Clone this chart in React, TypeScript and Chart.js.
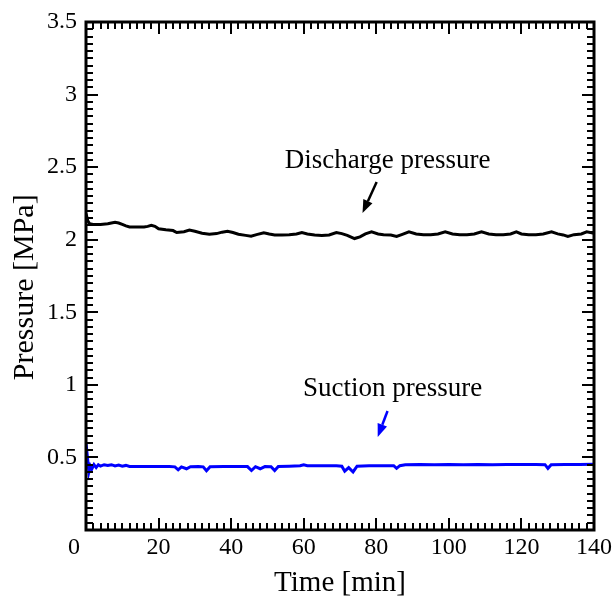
import React, { useEffect, useRef } from 'react';
import { Chart, registerables } from 'chart.js';

Chart.register(...registerables);

// ---- data ----
const dischargeTime = [
  0, 0.5, 1, 2, 4, 6, 7, 8, 9, 10, 11, 12, 14, 16, 17, 18, 19, 20, 22, 24, 25, 27, 28.5, 30, 32, 34, 36,
  37.5, 39, 40.5, 42, 44, 45.5, 47, 49, 50.5, 52, 54, 56, 58, 59.5, 61, 63, 65, 67, 69, 70.5, 72, 74,
  75.5, 77, 78.7, 80.5, 82, 84, 85.6, 87, 89, 91, 93, 95, 97, 99, 101, 103, 105, 107, 109, 111, 113,
  115, 117, 118.6, 120, 122, 124, 126, 128.3, 130, 131.5, 132.8, 134.5, 136.5, 138, 140,
];
const dischargeMPa = [
  2.18, 2.13, 2.11, 2.105, 2.105, 2.11, 2.115, 2.12, 2.115, 2.105, 2.095, 2.088, 2.087, 2.088, 2.092,
  2.1, 2.092, 2.075, 2.068, 2.063, 2.05, 2.055, 2.066, 2.058, 2.045, 2.038, 2.042, 2.052, 2.058, 2.05,
  2.038, 2.03, 2.024, 2.035, 2.048, 2.04, 2.033, 2.033, 2.034, 2.04, 2.05, 2.04, 2.032, 2.029, 2.033,
  2.05, 2.042, 2.03, 2.008, 2.02, 2.04, 2.054, 2.04, 2.035, 2.032, 2.022, 2.035, 2.054, 2.04, 2.035,
  2.035, 2.04, 2.054, 2.04, 2.035, 2.035, 2.04, 2.054, 2.04, 2.035, 2.035, 2.04, 2.054, 2.04, 2.035,
  2.035, 2.04, 2.054, 2.04, 2.033, 2.022, 2.035, 2.04, 2.054, 2.045,
];
const suctionTime = [
  0, 0.4, 0.8, 1.2, 1.6, 2.2, 2.8, 3.4, 4, 5, 6, 7, 8, 9, 10, 11, 12, 14, 17, 20, 23,
  24.5, 25.4, 26.3, 27.7, 28.8, 31, 32.3, 33.2, 34.2, 38, 42, 44.5, 45.6, 46.7, 48, 49.3, 51, 52, 53,
  56, 59, 60, 61, 65, 69, 70.5, 71.3, 72.4, 73.6, 74.7, 78, 82, 84.8, 85.6, 86.5, 88, 92, 96, 100, 104,
  108, 112, 116, 120, 124, 126.5, 127.3, 128.2, 132, 136, 140,
];
const suctionMPa = [
  0.6, 0.5, 0.4, 0.44, 0.42, 0.45, 0.43, 0.45, 0.44, 0.45, 0.445, 0.45, 0.442, 0.447, 0.44, 0.445,
  0.438, 0.437, 0.437, 0.437, 0.437, 0.435, 0.415, 0.435, 0.422, 0.436, 0.437,
  0.435, 0.408, 0.436, 0.437, 0.437, 0.437, 0.41, 0.436, 0.422, 0.437, 0.436, 0.41, 0.437, 0.44, 0.443,
  0.45, 0.443, 0.443, 0.443, 0.44, 0.405, 0.43, 0.4, 0.44, 0.443, 0.443, 0.443, 0.425, 0.443, 0.45,
  0.452, 0.45, 0.452, 0.45, 0.452, 0.45, 0.452, 0.452, 0.452, 0.45, 0.425, 0.45, 0.452, 0.452, 0.453,
];

const xTickValues = [0, 20, 40, 60, 80, 100, 120, 140];
const xTickLabels = ['0    ', '20', '40', '60', '80', '100', '120', '140'];
const yTickValues = [0, 0.5, 1, 1.5, 2, 2.5, 3, 3.5];
const yTickLabels = ['', '0.5', '1', '1.5', '2', '2.5', '3', '3.5'];

const xTitle = 'Time [min]';
const yTitle = 'Pressure [MPa]   ';
const dischargeLabel = 'Discharge pressure';
const suctionLabel = 'Suction pressure';

const SERIF = "'Liberation Serif', 'Times New Roman', Times, serif";

function drawArrow(ctx: CanvasRenderingContext2D, x1: number, y1: number, x2: number, y2: number, color: string) {
  const ang = Math.atan2(y2 - y1, x2 - x1);
  const hl = 13;
  const hw = 5;
  const bx = x2 - hl * Math.cos(ang);
  const by = y2 - hl * Math.sin(ang);
  ctx.save();
  ctx.strokeStyle = color;
  ctx.fillStyle = color;
  ctx.lineWidth = 2.5;
  ctx.beginPath();
  ctx.moveTo(x1, y1);
  ctx.lineTo(bx, by);
  ctx.stroke();
  ctx.beginPath();
  ctx.moveTo(x2, y2);
  ctx.lineTo(bx + hw * Math.sin(ang), by - hw * Math.cos(ang));
  ctx.lineTo(bx - hw * Math.sin(ang), by + hw * Math.cos(ang));
  ctx.closePath();
  ctx.fill();
  ctx.restore();
}

const framePlugin = {
  id: 'frameTicks',
  afterDatasetsDraw(chart: any) {
    const { ctx, chartArea: a, scales } = chart;
    const xs = scales.x;
    const ys = scales.y;
    ctx.save();
    ctx.strokeStyle = '#000';
    ctx.lineWidth = 2;
    ctx.beginPath();
    for (let i = 0; i <= 70; i++) {
      const v = i * 2;
      const len = i % 10 === 0 ? 12 : 7;
      const px = Math.round(xs.getPixelForValue(v));
      ctx.moveTo(px, a.bottom);
      ctx.lineTo(px, a.bottom - len);
      ctx.moveTo(px, a.top);
      ctx.lineTo(px, a.top + len);
    }
    for (let i = 0; i <= 70; i++) {
      const v = i * 0.05;
      const len = i % 10 === 0 ? 12 : 7;
      const py = Math.round(ys.getPixelForValue(v));
      ctx.moveTo(a.left, py);
      ctx.lineTo(a.left + len, py);
      ctx.moveTo(a.right, py);
      ctx.lineTo(a.right - len, py);
    }
    ctx.stroke();
    ctx.lineWidth = 3;
    ctx.strokeRect(a.left, a.top, a.right - a.left, a.bottom - a.top);

    ctx.fillStyle = '#000';
    ctx.font = `27px ${SERIF}`;
    ctx.textAlign = 'center';
    ctx.textBaseline = 'middle';
    ctx.fillText(dischargeLabel, xs.getPixelForValue(83.1), ys.getPixelForValue(2.542));
    ctx.fillText(suctionLabel, xs.getPixelForValue(84.5), ys.getPixelForValue(0.971));
    drawArrow(ctx, xs.getPixelForValue(80.1), ys.getPixelForValue(2.398), xs.getPixelForValue(76.2), ys.getPixelForValue(2.184), '#000');
    drawArrow(ctx, xs.getPixelForValue(83.1), ys.getPixelForValue(0.82), xs.getPixelForValue(80.4), ys.getPixelForValue(0.641), '#0000ff');
    ctx.restore();
  },
};

function zeroPadding(s: any) {
  s.paddingTop = 0;
  s.paddingBottom = 0;
  s.paddingLeft = 0;
  s.paddingRight = 0;
}

export default function App() {
  const ref = useRef<HTMLCanvasElement>(null);
  useEffect(() => {
    const canvas = ref.current;
    if (!canvas) return;
    Chart.defaults.font.family = SERIF;
    Chart.defaults.color = '#000';
    const chart = new Chart(canvas, {
      type: 'line',
      data: {
        datasets: [
          {
            label: dischargeLabel,
            data: dischargeTime.map((t, i) => ({ x: t, y: dischargeMPa[i] })),
            borderColor: '#000000',
            borderWidth: 3,
            pointRadius: 0,
            tension: 0,
            fill: false,
          },
          {
            label: suctionLabel,
            data: suctionTime.map((t, i) => ({ x: t, y: suctionMPa[i] })),
            borderColor: '#0000ff',
            borderWidth: 3,
            pointRadius: 0,
            tension: 0,
            fill: false,
          },
        ],
      },
      options: {
        animation: false,
        responsive: false,
        devicePixelRatio: 1,
        layout: { padding: { top: 22, right: 19, left: 0, bottom: 0 } },
        plugins: { legend: { display: false }, tooltip: { enabled: false } },
        scales: {
          x: {
            type: 'linear',
            min: 0,
            max: 140,
            grid: { display: false, drawTicks: false },
            border: { display: false },
            afterBuildTicks: (s: any) => {
              s.ticks = xTickValues.map((v) => ({ value: v }));
            },
            ticks: {
              padding: 3,
              maxRotation: 0,
              autoSkip: false,
              color: '#000',
              font: { size: 24, family: SERIF },
              callback: (v: any) => {
                const i = xTickValues.indexOf(Number(v));
                return i >= 0 ? xTickLabels[i] : '';
              },
            },
            title: {
              display: true,
              text: xTitle,
              color: '#000',
              font: { size: 29, family: SERIF, lineHeight: 1.2 },
              padding: 0,
            },
            afterFit: (s: any) => {
              s.height = 71;
              zeroPadding(s);
            },
          },
          y: {
            type: 'linear',
            min: 0,
            max: 3.5,
            grid: { display: false, drawTicks: false },
            border: { display: false },
            afterBuildTicks: (s: any) => {
              s.ticks = yTickValues.map((v) => ({ value: v }));
            },
            ticks: {
              padding: 9,
              autoSkip: false,
              color: '#000',
              font: { size: 24, family: SERIF },
              callback: (v: any) => {
                const i = yTickValues.indexOf(Number(v));
                return i >= 0 ? yTickLabels[i] : '';
              },
            },
            title: {
              display: true,
              text: yTitle,
              color: '#000',
              font: { size: 30, family: SERIF, lineHeight: 1.2 },
              padding: { top: 7, bottom: 0 },
            },
            afterFit: (s: any) => {
              s.width = 86;
              zeroPadding(s);
            },
          },
        },
      },
      plugins: [framePlugin],
    } as any);
    return () => chart.destroy();
  }, []);
  return (
    <canvas
      ref={ref}
      width={613}
      height={601}
      style={{ position: 'absolute', left: 0, top: 0, display: 'block', width: '613px', height: '601px' }}
    />
  );
}
